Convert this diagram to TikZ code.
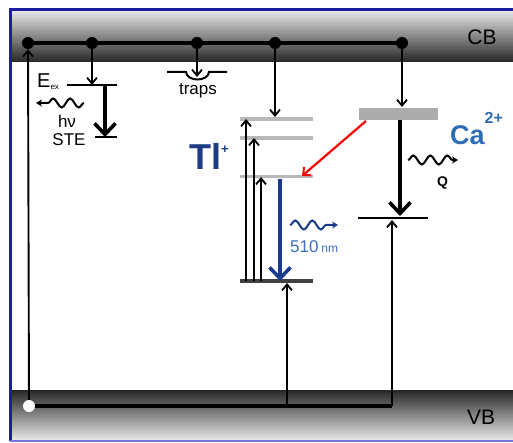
\documentclass[tikz,border=0pt]{standalone}
\usepackage{fontspec}
\setmainfont{Liberation Sans}
\usetikzlibrary{arrows.meta,decorations.pathmorphing}

\definecolor{frameblue}{HTML}{1E1E9C}
\definecolor{framelight}{HTML}{7474E0}
\definecolor{tlblue}{HTML}{1D3B82}
\definecolor{cablue}{HTML}{2F6CB6}
\definecolor{emblue}{HTML}{1A3A8E}
\definecolor{nmblue}{HTML}{3A6EC0}
\definecolor{lvlgray}{HTML}{B8B8B8}

\tikzset{
  dot/.style={circle, fill=black, inner sep=0pt, minimum size=12pt},
  hole/.style={circle, fill=white, inner sep=0pt, minimum size=12pt},
  bandline/.style={line width=3.2pt},
  level/.style={line width=3.5pt, lvlgray},
  jump/.style={line width=1.9pt, -{Straight Barb[length=6pt,width=10pt,line width=1.8pt]}},
  bigjump/.style={line width=4.2pt, -{Straight Barb[length=11pt,width=21pt,line width=3.6pt]}},
  wave/.style={decorate, decoration={snake, amplitude=4.5pt, segment length=17pt, post length=5pt},
    line width=2pt, -{Stealth[length=6pt,width=7pt]}},
}

\begin{document}
\begin{tikzpicture}[x=1pt,y=-1pt]
  \useasboundingbox (0,0) rectangle (513,443);

  % bands and frame
  \shade[top color=gray!20, middle color=black!58, bottom color=black!85] (10,11) rectangle (513,62);
  \shade[top color=black!85, middle color=black!58, bottom color=gray!15] (10,390) rectangle (513,441);
  \draw[frameblue, line width=3pt] (513,10) -- (10,10) -- (10,441);
  \draw[framelight, line width=2pt] (10,441) -- (513,441);

  \node[font=\fontsize{21}{24}\selectfont] (cb) at (482,37) {CB};
  \node[font=\fontsize{21}{24}\selectfont] (vb) at (481,417) {VB};

  % conduction band electrons
  \coordinate (cbL) at (28,43);
  \coordinate (cbR) at (402,43);
  \draw[bandline] (cbL) -- (cbR);
  \node[dot] (cbA) at (28,43) {};
  \node[dot] (cbB) at (92,43) {};
  \node[dot] (cbC) at (197,43) {};
  \node[dot] (cbD) at (275,43) {};
  \node[dot] (cbE) at (402,43) {};

  % valence band hole
  \node[hole] (hole) at (29,406) {};
  \coordinate (vbT) at (287,406);
  \coordinate (vbC) at (392,406);
  \draw[bandline, line width=3.6pt] (hole) -- (vbC);
  \draw[jump] (hole) -- (cbA);

  % STE
  \coordinate (EexL) at (67,85);
  \coordinate (EexR) at (117,85);
  \coordinate (EexA) at (92,85);
  \coordinate (EexB) at (105,85);
  \coordinate (steL) at (95,137);
  \coordinate (steR) at (117,137);
  \coordinate (steB) at (105,137);
  \coordinate (hvR) at (84,103);
  \coordinate (hvL) at (36,103);
  \draw[line width=1.9pt] (EexL) -- (EexR);
  \draw[line width=1.9pt] (steL) -- (steR);
  \draw[jump] (cbB) -- (EexA);
  \draw[bigjump] (EexB) -- (steB);
  \draw[wave] (hvR) -- (hvL);
  \node[anchor=base west, inner sep=0pt, font=\fontsize{20}{24}\selectfont] (Eex) at (37,88)
    {E\raisebox{-2pt}{\fontsize{8}{8}\selectfont ex}};
  \node[anchor=base, inner sep=0pt, font=\fontsize{17}{20}\selectfont] (hv) at (67,128) {hν};
  \node[anchor=base, inner sep=0pt, font=\fontsize{17}{20}\selectfont] (ste) at (69,146) {STE};

  % traps
  \coordinate (trL) at (167,72);
  \coordinate (trA) at (186,72);
  \coordinate (trB) at (209,72);
  \coordinate (trR) at (227,72);
  \coordinate (trIn) at (197,77);
  \draw[line width=2pt] (trL) -- (trA) .. controls (187,82) and (208,82) .. (trB) -- (trR);
  \draw[jump] (cbC) -- (trIn);
  \node[anchor=base, inner sep=0pt, font=\fontsize{17}{20}\selectfont] (traps) at (198,95) {traps};

  % Tl+ levels
  \coordinate (tlCl) at (240,119);
  \coordinate (tlCr) at (313,119);
  \coordinate (tlBl) at (240,138);
  \coordinate (tlBr) at (313,138);
  \coordinate (tlAl) at (240,177);
  \coordinate (tlAr) at (313,177);
  \coordinate (tlGl) at (240,281);
  \coordinate (tlGr) at (313,281);
  \draw[level] (tlCl) -- (tlCr);
  \draw[level] (tlBl) -- (tlBr);
  \draw[level, line width=3pt] (tlAl) -- (tlAr);
  \draw[level, black!75] (tlGl) -- (tlGr);
  \draw[jump] (246,281) -- (246,119);
  \draw[jump] (254,281) -- (254,138);
  \draw[jump] (261,281) -- (261,177);
  \draw[jump] (cbD) -- (275,117);
  \draw[jump] (vbT) -- (287,283);
  \draw[bigjump, emblue, line width=3.6pt] (280,179) -- (280,281);
  \draw[wave, emblue] (290,225) -- (338,225);
  \node[anchor=base west, inner sep=0pt, nmblue, font=\fontsize{17}{20}\selectfont] (nm) at (290,253)
    {510\,{\fontsize{12}{14}\selectfont nm}};
  \node[anchor=base west, inner sep=0pt, tlblue, font=\fontsize{36}{40}\bfseries] (tl) at (189,170)
    {Tl\raisebox{16pt}{\fontsize{13}{14}\selectfont +}};

  % Ca2+ levels
  \coordinate (caL) at (359,114);
  \coordinate (caR) at (438,114);
  \coordinate (caLo) at (358,218);
  \coordinate (caRo) at (428,218);
  \draw[line width=12pt, gray!65] (caL) -- (caR);
  \draw[line width=1.9pt] (caLo) -- (caRo);
  \draw[jump] (cbE) -- (402,107);
  \draw[bigjump] (400,120) -- (400,216);
  \draw[jump] (vbC) -- (392,220);
  \draw[red, line width=2.2pt, -{Straight Barb[length=6pt,width=11pt,line width=2pt]}] (366,121) -- (302,176);
  \draw[wave] (408,160) -- (458,160);
  \node[anchor=base west, inner sep=0pt, font=\fontsize{14}{16}\bfseries] (q) at (437,187) {Q};
  \node[anchor=base west, inner sep=0pt, cablue, font=\fontsize{27}{30}\bfseries] (ca) at (450,145)
    {Ca\raisebox{21pt}{\fontsize{16}{18}\selectfont 2+}};
\end{tikzpicture}
\end{document}
